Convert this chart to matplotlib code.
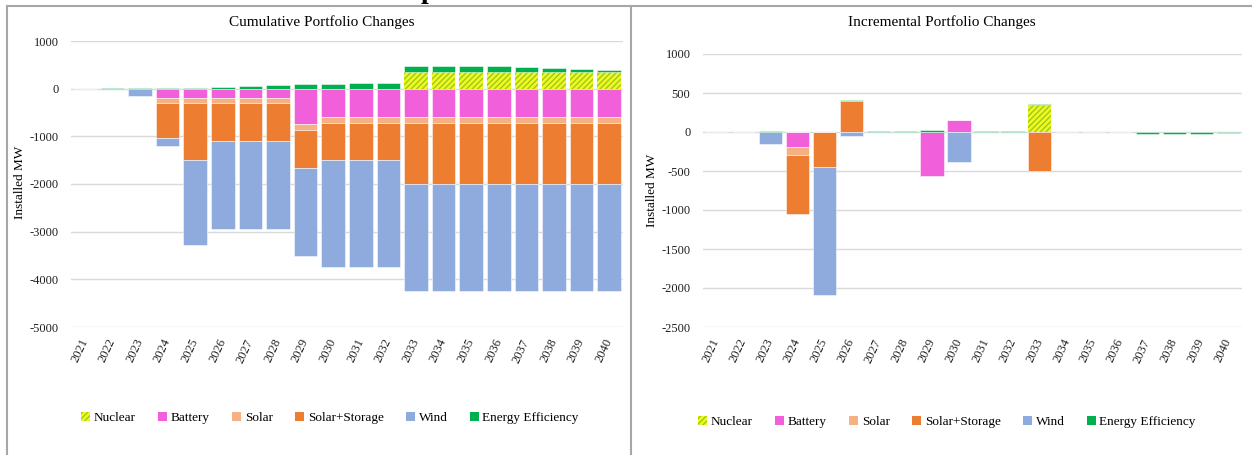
import numpy as np
import matplotlib.pyplot as plt
from matplotlib.lines import Line2D
from matplotlib.patches import Patch

plt.rcParams['font.family'] = ['Liberation Serif', 'DejaVu Serif']
plt.rcParams['hatch.linewidth'] = 1.0
plt.rcParams['axes.unicode_minus'] = False

years = [str(y) for y in range(2021, 2041)]
series = ['Nuclear', 'Battery', 'Solar', 'Solar+Storage', 'Wind', 'Energy Efficiency']

# cumulative changes (MW)
cum_nuclear = [0, 0, 0, 0, 0, 0, 0, 0, 0, 0, 0, 0, 350, 350, 350, 350, 350, 350, 350, 350]
cum_battery = [0, 0, 0, -190, -190, -190, -190, -190, -750, -600, -600, -600, -600, -600, -600, -600, -600, -600, -600, -600]
cum_solar = [0, 0, 0, -110, -110, -110, -110, -110, -110, -110, -110, -110, -110, -110, -110, -110, -110, -110, -110, -110]
cum_solar_storage = [0, 0, 0, -745, -1200, -800, -800, -800, -800, -795, -795, -795, -1290, -1290, -1290, -1290, -1290, -1290, -1290, -1290]
cum_wind = [0, 0, -150, -150, -1790, -1845, -1845, -1845, -1845, -2235, -2235, -2235, -2235, -2235, -2235, -2235, -2235, -2235, -2235, -2235]
cum_ee = [3, 8, 15, 20, 20, 35, 55, 76, 97, 104, 111, 118, 118, 122, 129, 136, 115, 89, 59, 46]

# incremental changes (MW)
inc_nuclear = [0, 0, 0, 0, 0, 0, 0, 0, 0, 0, 0, 0, 350, 0, 0, 0, 0, 0, 0, 0]
inc_battery = [0, 0, 0, -190, 0, 0, 0, 0, -560, 150, 0, 0, 0, 0, 0, 0, 0, 0, 0, 0]
inc_solar = [0, 0, 0, -110, 0, 0, 0, 0, 0, 0, 0, 0, 0, 0, 0, 0, 0, 0, 0, 0]
inc_solar_storage = [0, 0, 0, -750, -455, 400, 0, 0, 0, 0, 0, 0, -500, 0, 0, 0, 0, 0, 0, 0]
inc_wind = [0, 0, -150, 0, -1640, -50, 0, 0, 0, -390, 0, 0, 0, 0, 0, 0, 0, 0, 0, 0]
inc_ee = [5, 5, 8, 5, 4, 12, 15, 18, 20, 7, 7, 7, 6, 5, 5, 3, -20, -25, -30, -13]

colors = ['#F0FA1E', '#F25FDB', '#F4B183', '#ED7D31', '#8FAADC', '#00B050']
nuc_hatch = '#9CC820'


def stacked(ax, data):
    x = np.arange(len(years))
    pos = np.zeros(len(years))
    neg = np.zeros(len(years))
    for i, vals in enumerate(data):
        v = np.array(vals, dtype=float)
        bottom = np.where(v >= 0, pos, neg)
        m = v != 0
        if i == 0:
            ax.bar(x[m], v[m], 0.86, bottom=bottom[m], color=colors[0],
                   edgecolor=nuc_hatch, hatch='//////', linewidth=0)
        else:
            ax.bar(x[m], v[m], 0.86, bottom=bottom[m], color=colors[i],
                   edgecolor=(1, 1, 1, 0.6), linewidth=0.6)
        pos = pos + np.where(v > 0, v, 0)
        neg = neg + np.where(v < 0, v, 0)
    ax.set_xticks(x)
    ax.set_xticklabels(years, rotation=65, ha='right', va='center',
                       rotation_mode='anchor', fontsize=9.5)
    ax.set_xlim(-0.5, len(years) - 0.5)
    ax.tick_params(length=0, labelsize=9, colors='#202020')
    ax.tick_params(axis='x', pad=9)
    ax.tick_params(axis='y', pad=9)
    ax.grid(axis='y', color='#d9d9d9', linewidth=1)
    ax.set_axisbelow(True)
    for s in ax.spines.values():
        s.set_visible(False)


fig = plt.figure(figsize=(12.52, 4.55), dpi=100)
W, H = 1252, 455
ax1 = fig.add_axes([71 / W, 1 - 327 / H, (623 - 71) / W, (327 - 41) / H])
ax2 = fig.add_axes([703 / W, 1 - 327 / H, (1242 - 703) / W, (327 - 54) / H])

stacked(ax1, [cum_nuclear, cum_battery, cum_solar, cum_solar_storage, cum_wind, cum_ee])
ax1.set_ylim(-5000, 1000)
ax1.set_yticks(range(-5000, 1001, 1000))

stacked(ax2, [inc_nuclear, inc_battery, inc_solar, inc_solar_storage, inc_wind, inc_ee])
ax2.set_ylim(-2500, 1000)
ax2.set_yticks(range(-2500, 1001, 500))

fig.text(322 / W, 1 - 22 / H, 'Cumulative Portfolio Changes', ha='center', va='center', fontsize=11)
fig.text(942 / W, 1 - 22 / H, 'Incremental Portfolio Changes', ha='center', va='center', fontsize=11)
fig.text(20 / W, 1 - 182 / H, 'Installed MW', rotation=90, ha='center', va='center', fontsize=9.5)
fig.text(652 / W, 1 - 190 / H, 'Installed MW', rotation=90, ha='center', va='center', fontsize=9.5)

# cut-off page heading above the panels
fig.text(428 / W, 1 + 2 / H, 'p', ha='center', va='baseline', fontsize=20, fontweight='bold')

handles = []
for i, name in enumerate(series):
    if i == 0:
        handles.append(Patch(facecolor=colors[0], edgecolor=nuc_hatch, hatch='//////', linewidth=0, label=name))
    else:
        handles.append(Patch(facecolor=colors[i], label=name))

for cx, cy in [(330, 418), (947, 422)]:
    fig.legend(handles=handles, loc='center', bbox_to_anchor=(cx / W, 1 - cy / H),
               ncol=6, frameon=False, fontsize=9.5, handlelength=0.7, handleheight=0.7,
               handletextpad=0.25, columnspacing=1.7)

# panel borders
bc = '#a6a6a6'
fig.add_artist(Line2D([7 / W, 7 / W], [0, 1 - 6 / H], color=bc, linewidth=1.5))
fig.add_artist(Line2D([631 / W, 631 / W], [0, 1 - 6 / H], color=bc, linewidth=1.5))
fig.add_artist(Line2D([7 / W, 1], [1 - 6 / H, 1 - 6 / H], color=bc, linewidth=1.5))

fig.savefig('out.png', dpi=100)
